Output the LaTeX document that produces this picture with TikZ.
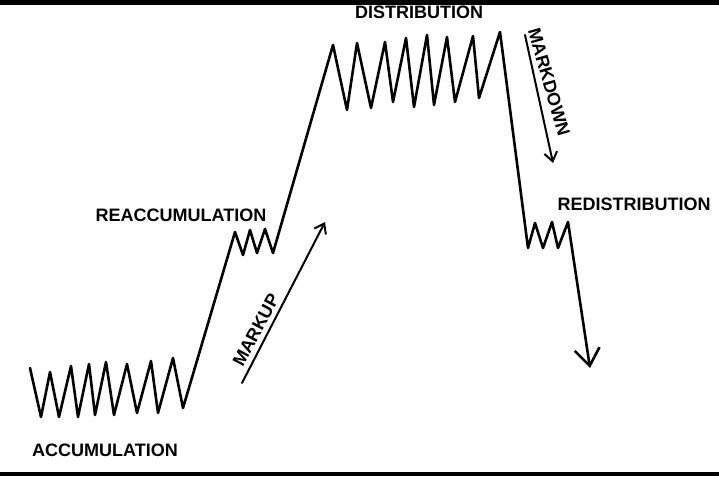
\documentclass[tikz,border=0pt]{standalone}
\usepackage{fontspec}
\setmainfont{Liberation Sans}
\usetikzlibrary{arrows.meta}
\begin{document}
\begin{tikzpicture}[x=1pt,y=-1pt,
  price/.style={line width=2.6pt, line join=round, line cap=round},
  lbl/.style={font=\bfseries\fontsize{18}{20}\selectfont, inner sep=0pt},
  trend/.style={line width=2pt, line cap=round, -{Straight Barb[length=9pt,width=13pt]}}]
\useasboundingbox (0,0) rectangle (719,476);
\fill[white] (0,0) rectangle (719,476);
% price path
\draw[price, -{Straight Barb[length=17pt,width=25pt]}]
 (30,368) -- (41,417) -- (50,372) -- (59,417) -- (71,366) -- (78,417) -- (89,364) -- (95,415)
 -- (106,362) -- (114,415) -- (127,364) -- (137,413) -- (151,361) -- (158,413) -- (173,358) -- (183,408)
 -- (235,232) -- (243,255) -- (250,230) -- (257,253) -- (265,229) -- (273,253)
 -- (333,45) -- (347,110) -- (357,43) -- (371,108) -- (385,42) -- (393,102) -- (406,38) -- (414,107)
 -- (427,35) -- (434,105) -- (447,37) -- (455,102) -- (473,36) -- (479,98) -- (500,32)
 -- (528,248) -- (535,223) -- (543,248) -- (552,222) -- (558,248) -- (568,222) -- (590,368);
% trend arrows
\coordinate (mu0) at (242,383);
\coordinate (mu1) at (325,222);
\coordinate (md0) at (525,35);
\coordinate (md1) at (553,163);
\draw[trend] (mu0) -- (mu1);
\draw[trend] (md0) -- (md1);
% labels
\node[lbl] (acc) at (105,450) {ACCUMULATION};
\node[lbl] (reacc) at (181,215) {REACCUMULATION};
\node[lbl] (dist) at (419,12) {DISTRIBUTION};
\node[lbl] (redist) at (634,204) {REDISTRIBUTION};
\node[lbl, rotate=62] (markup) at (256,330) {MARKUP};
\node[lbl, rotate=-74] (markdown) at (549,82) {MARKDOWN};
% scan borders
\fill[black] (0,0) rectangle (719,5.5);
\fill[black] (0,471.5) rectangle (719,476);
\end{tikzpicture}
\end{document}
